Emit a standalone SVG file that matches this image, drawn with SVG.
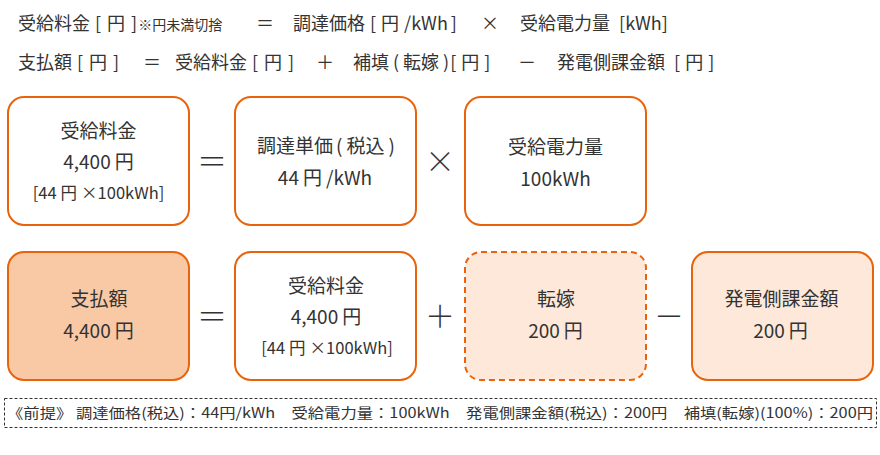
<svg xmlns="http://www.w3.org/2000/svg" width="880" height="455" viewBox="0 0 880 455">
<style>
text{font-family:"Noto Sans CJK JP","Noto Sans",sans-serif;fill:#333;}
.h{font-size:18px;}
.hs{font-size:14px;}
.b{font-size:19px;text-anchor:middle;}
.bs{font-size:16.5px;text-anchor:middle;}
.op{font-size:30px;text-anchor:middle;font-weight:300;}
.f{font-size:14px;}
.box{fill:#fff;stroke:#E8640C;stroke-width:2;}
.dk{fill:#F9C9A6;}
.lt{fill:#FDE8DA;}
.dash{stroke-dasharray:6 4;}
</style>
<rect width="880" height="455" fill="#fff"/>
<g id="header">
<text class="h" x="18" y="30">受給料金<tspan dx="5">[</tspan><tspan dx="6">円</tspan><tspan dx="6">]</tspan><tspan class="hs" dx="1">※円未満切捨</tspan></text>
<text class="h" x="265" y="30" text-anchor="middle">＝</text>
<text class="h" x="293" y="30">調達価格<tspan dx="5">[</tspan><tspan dx="5">円</tspan><tspan dx="5">/kWh</tspan><tspan dx="3">]</tspan></text>
<text class="h" x="490" y="30" text-anchor="middle">×</text>
<text class="h" x="520" y="30">受給電力量 <tspan dx="5">[kWh]</tspan></text>
<text class="h" x="18" y="69">支払額<tspan dx="5">[</tspan><tspan dx="6">円</tspan><tspan dx="6">]</tspan></text>
<text class="h" x="152" y="69" text-anchor="middle">＝</text>
<text class="h" x="175" y="69">受給料金<tspan dx="5">[</tspan><tspan dx="6">円</tspan><tspan dx="6">]</tspan></text>
<text class="h" x="325" y="69" text-anchor="middle">＋</text>
<text class="h" x="353" y="69">補填<tspan dx="4">(</tspan><tspan dx="4">転嫁</tspan><tspan dx="4">)</tspan><tspan dx="1">[</tspan><tspan dx="5">円</tspan><tspan dx="5">]</tspan></text>
<text class="h" x="527" y="69" text-anchor="middle">－</text>
<text class="h" x="557" y="69">発電側課金額 <tspan dx="5">[</tspan><tspan dx="5">円</tspan><tspan dx="5">]</tspan></text>
</g>
<g id="n1">
<rect class="box" x="8" y="97" width="181" height="128" rx="16"/>
<text class="b" x="98.5" y="138">受給料金</text>
<text class="b" x="98.5" y="169">4,400<tspan dx="4">円</tspan></text>
<text class="bs" x="98.5" y="199">[44<tspan dx="4">円</tspan><tspan dx="4">×100kWh]</tspan></text>
</g>
<g id="n2">
<rect class="box" x="235" y="97" width="181" height="128" rx="16"/>
<text class="b" x="326" y="153">調達単価<tspan dx="3">(</tspan><tspan dx="4">税込</tspan><tspan dx="4">)</tspan></text>
<text class="b" x="325" y="185">44<tspan dx="4">円</tspan><tspan dx="4">/kWh</tspan></text>
</g>
<g id="n3">
<rect class="box" x="465" y="97" width="181" height="128" rx="16"/>
<text class="b" x="555.5" y="154">受給電力量</text>
<text class="b" x="555.5" y="186">100kWh</text>
</g>
<g id="n4">
<rect class="box dk" x="8" y="252" width="181" height="128" rx="16"/>
<text class="b" x="99" y="306">支払額</text>
<text class="b" x="98.5" y="338">4,400<tspan dx="4">円</tspan></text>
</g>
<g id="n5">
<rect class="box" x="235" y="252" width="181" height="128" rx="16"/>
<text class="b" x="326" y="293">受給料金</text>
<text class="b" x="326" y="324">4,400<tspan dx="4">円</tspan></text>
<text class="bs" x="327" y="354">[44<tspan dx="4">円</tspan><tspan dx="4">×100kWh]</tspan></text>
</g>
<g id="n6">
<rect class="box lt dash" x="465" y="252" width="181" height="128" rx="16"/>
<text class="b" x="556" y="306">転嫁</text>
<text class="b" x="555.5" y="338">200<tspan dx="4">円</tspan></text>
</g>
<g id="n7">
<rect class="box lt" x="692" y="252" width="181" height="128" rx="16"/>
<text class="b" x="781.5" y="306">発電側課金額</text>
<text class="b" x="780.5" y="338">200<tspan dx="4">円</tspan></text>
</g>
<g id="ops">
<text class="op" x="212" y="172">＝</text>
<text class="op" x="440" y="172">×</text>
<text class="op" x="212" y="327">＝</text>
<text class="op" x="440" y="327">＋</text>
<text class="op" x="669" y="327">－</text>
</g>
<g id="footer">
<rect x="4.5" y="398.5" width="872" height="29" fill="none" stroke="#333" stroke-width="1" stroke-dasharray="3 2"/>
<text class="f" x="7" y="418" textLength="866" lengthAdjust="spacingAndGlyphs">《前提》 調達価格(税込)：44円/kWh　受給電力量：100kWh　発電側課金額(税込)：200円　補填(転嫁)(100%)：200円</text>
</g>
</svg>
